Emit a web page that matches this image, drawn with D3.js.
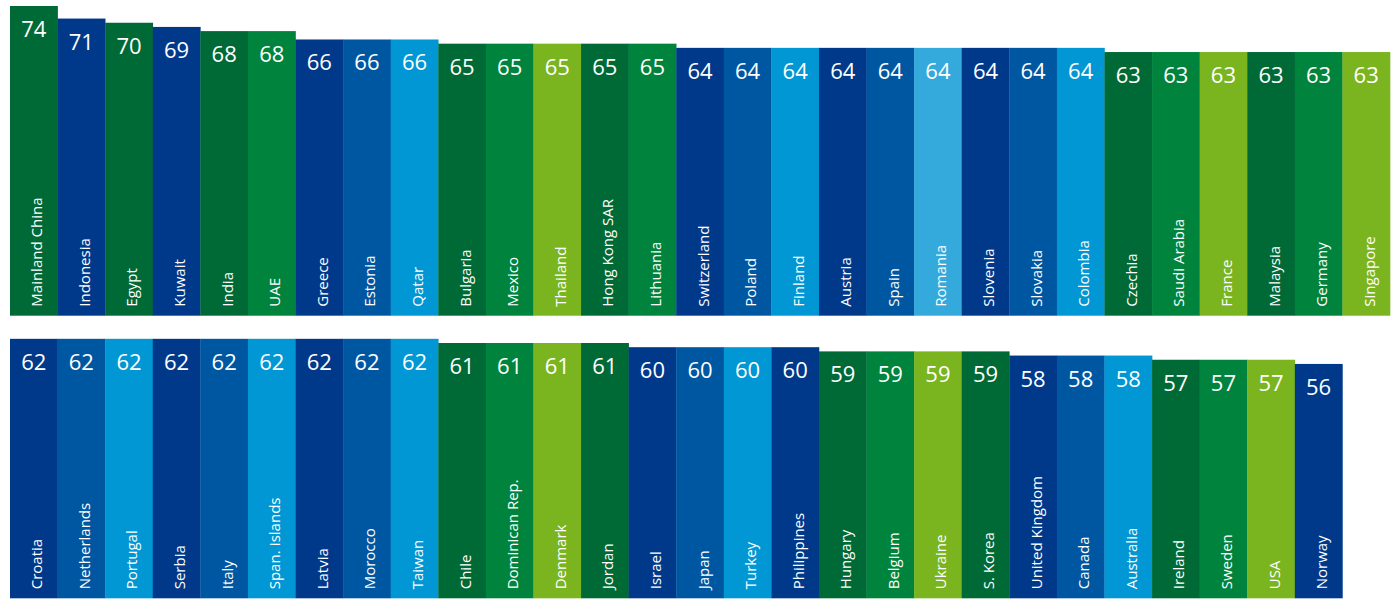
<!DOCTYPE html>
<html>
<head>
<meta charset="utf-8">
<script src="https://cdn.jsdelivr.net/npm/d3@7"></script>
<style>
  html, body { margin: 0; padding: 0; background: #fff; }
  svg { display: block; }
</style>
</head>
<body>
<svg id="chart" width="1400" height="607"></svg>
<script>
// 数据：两行柱子
const countriesTop = ["Mainland China", "Indonesia", "Egypt", "Kuwait", "India", "UAE", "Greece", "Estonia", "Qatar",
  "Bulgaria", "Mexico", "Thailand", "Hong Kong SAR", "Lithuania", "Switzerland", "Poland", "Finland", "Austria",
  "Spain", "Romania", "Slovenia", "Slovakia", "Colombia", "Czechia", "Saudi Arabia", "France", "Malaysia",
  "Germany", "Singapore"];
const valuesTop = [74, 71, 70, 69, 68, 68, 66, 66, 66, 65, 65, 65, 65, 65, 64, 64, 64, 64, 64, 64, 64, 64, 64,
  63, 63, 63, 63, 63, 63];
const colorKeysTop = ["dg", "nv", "dg", "nv", "dg", "gr", "nv", "mb", "lb", "dg", "gr", "lg", "dg", "gr", "nv",
  "mb", "lb", "nv", "mb", "xb", "nv", "mb", "lb", "dg", "gr", "lg", "dg", "gr", "lg"];

const countriesBottom = ["Croatia", "Netherlands", "Portugal", "Serbia", "Italy", "Span. Islands", "Latvia",
  "Morocco", "Taiwan", "Chile", "Dominican Rep.", "Denmark", "Jordan", "Israel", "Japan", "Turkey", "Philippines",
  "Hungary", "Belgium", "Ukraine", "S. Korea", "United Kingdom", "Canada", "Australia", "Ireland", "Sweden",
  "USA", "Norway"];
const valuesBottom = [62, 62, 62, 62, 62, 62, 62, 62, 62, 61, 61, 61, 61, 60, 60, 60, 60, 59, 59, 59, 59, 58, 58,
  58, 57, 57, 57, 56];
const colorKeysBottom = ["nv", "mb", "lb", "nv", "mb", "lb", "nv", "mb", "lb", "dg", "gr", "lg", "dg", "nv", "mb",
  "lb", "nv", "dg", "gr", "lg", "dg", "nv", "mb", "lb", "dg", "gr", "lg", "nv"];

// 颜色
const palette = {
  nv: "#00398a", // 深蓝
  mb: "#0057a1", // 中蓝
  lb: "#0097d4", // 浅蓝
  xb: "#33a9dc", // 更浅的蓝
  dg: "#006a36", // 深绿
  gr: "#00843d", // 绿
  lg: "#7ab51f"  // 浅绿
};

const svg = d3.select("#chart");

const maxCount = Math.max(countriesTop.length, countriesBottom.length);
const xScale = d3.scaleBand().domain(d3.range(maxCount)).range([10, 1390]).paddingInner(0).paddingOuter(0);
const hScale = d3.scaleLinear().domain([0, 74]).range([0, 309.7]);

const fontFamily = "'Open Sans', 'Noto Sans', sans-serif";

// 画一行柱子
function drawRow(names, values, colorKeys, baseline) {
  const data = names.map((n, i) => ({ name: n, value: values[i], color: palette[colorKeys[i]], i: i }));
  const g = svg.append("g");

  const bar = g.selectAll("g.bar").data(data).join("g").attr("class", "bar");

  bar.append("rect")
    .attr("x", d => xScale(d.i))
    .attr("y", d => baseline - hScale(d.value))
    .attr("width", xScale.bandwidth() + 0.3)
    .attr("height", d => hScale(d.value))
    .attr("fill", d => d.color);

  // 数值
  bar.append("text")
    .text(d => d.value)
    .attr("x", d => xScale(d.i) + xScale.bandwidth() / 2)
    .attr("y", d => baseline - hScale(d.value) + 31)
    .attr("text-anchor", "middle")
    .attr("font-family", fontFamily)
    .attr("font-size", 22)
    .attr("fill", "#fff");

  // 国家名称（竖排）
  bar.append("text")
    .text(d => d.name)
    .attr("transform", d => {
      const cx = xScale(d.i) + xScale.bandwidth() / 2 + 8.5;
      return `translate(${cx},${baseline - 9}) rotate(-90)`;
    })
    .attr("text-anchor", "start")
    .attr("font-family", fontFamily)
    .attr("font-size", 15)
    .attr("fill", "#fff");
}

drawRow(countriesTop, valuesTop, colorKeysTop, 315.7);
drawRow(countriesBottom, valuesBottom, colorKeysBottom, 598.3);
</script>
</body>
</html>
